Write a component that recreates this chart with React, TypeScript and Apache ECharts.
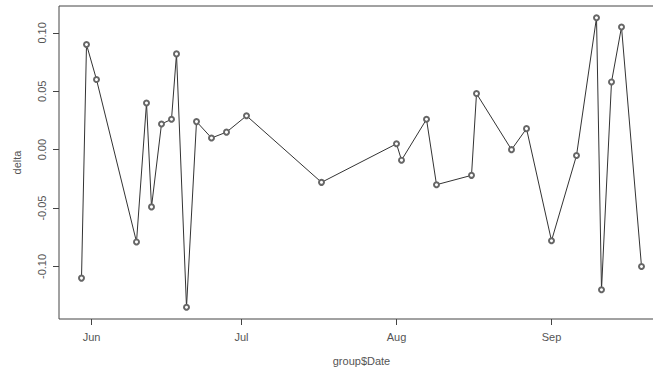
import React, { useEffect, useRef } from "react";
import * as echarts from "echarts";

const dates: string[] = [
  "2015-05-30", "2015-05-31", "2015-06-02", "2015-06-10", "2015-06-12",
  "2015-06-13", "2015-06-15", "2015-06-17", "2015-06-18", "2015-06-20",
  "2015-06-22", "2015-06-25", "2015-06-28", "2015-07-02", "2015-07-17",
  "2015-08-01", "2015-08-02", "2015-08-07", "2015-08-09", "2015-08-16",
  "2015-08-17", "2015-08-24", "2015-08-27", "2015-09-01", "2015-09-06",
  "2015-09-10", "2015-09-11", "2015-09-13", "2015-09-15", "2015-09-19",
];
const delta: number[] = [
  -0.110, 0.090, 0.060, -0.079, 0.040,
  -0.049, 0.022, 0.026, 0.082, -0.135,
  0.024, 0.010, 0.015, 0.029, -0.028,
  0.005, -0.009, 0.026, -0.030, -0.022,
  0.048, 0.000, 0.018, -0.078, -0.005,
  0.113, -0.120, 0.058, 0.105, -0.100,
];
const monthTicks: string[] = ["2015-06-01", "2015-07-01", "2015-08-01", "2015-09-01"];
const monthLabels: string[] = ["Jun", "Jul", "Aug", "Sep"];
const yTicks: number[] = [-0.1, -0.05, 0, 0.05, 0.1];

const ts = (d: string) => Date.parse(d + "T00:00:00Z");

export default function App() {
  const ref = useRef<HTMLDivElement>(null);
  useEffect(() => {
    document.body.style.margin = "0";
    if (!ref.current) return;
    const chart = echarts.init(ref.current, undefined, { renderer: "svg" });
    const tickTs = monthTicks.map(ts);
    const font = "Liberation Sans";
    chart.setOption({
      animation: false,
      backgroundColor: "#ffffff",
      grid: {
        left: 59,
        top: 6,
        width: 605,
        height: 313,
        outerBoundsMode: "none",
        containLabel: false,
        show: true,
        borderColor: "#444",
        borderWidth: 1,
        backgroundColor: "transparent",
      },
      xAxis: {
        type: "value",
        min: ts("2015-05-25") + 12 * 3600 * 1000,
        max: ts("2015-09-23") + 12 * 3600 * 1000,
        name: "group$Date",
        nameLocation: "middle",
        nameGap: 36,
        nameTextStyle: { fontFamily: font, fontSize: 11, color: "#555" },
        axisLine: { show: false, onZero: false },
        splitLine: { show: false },
        axisTick: {
          show: true,
          length: 6,
          lineStyle: { color: "#444" },
          customValues: tickTs,
        },
        axisLabel: {
          show: true,
          customValues: tickTs,
          margin: 12,
          fontFamily: font,
          fontSize: 11,
          color: "#555",
          formatter: (v: number) => {
            const i = tickTs.indexOf(v);
            return i >= 0 ? monthLabels[i] : "";
          },
        },
      },
      yAxis: {
        type: "value",
        min: -0.145,
        max: 0.123,
        name: "delta",
        nameLocation: "middle",
        nameRotate: 90,
        nameGap: 37,
        nameTextStyle: { fontFamily: font, fontSize: 11, color: "#555" },
        axisLine: { show: false, onZero: false },
        splitLine: { show: false },
        axisTick: {
          show: true,
          length: 6,
          lineStyle: { color: "#444" },
          customValues: yTicks,
        },
        axisLabel: {
          show: true,
          customValues: yTicks,
          rotate: 90,
          margin: 12,
          fontFamily: font,
          fontSize: 11,
          color: "#555",
          formatter: (v: number) => v.toFixed(2),
        },
      },
      series: [
        {
          type: "line",
          data: dates.map((d, i) => [ts(d), delta[i]]),
          symbol: "emptyCircle",
          symbolSize: 5,
          showSymbol: true,
          lineStyle: { color: "#333", width: 1 },
          itemStyle: { color: "#666", borderWidth: 0.8 },
          emphasis: { disabled: true },
        },
      ],
    });
    return () => chart.dispose();
  }, []);
  return <div ref={ref} style={{ width: 653, height: 372 }} />;
}
